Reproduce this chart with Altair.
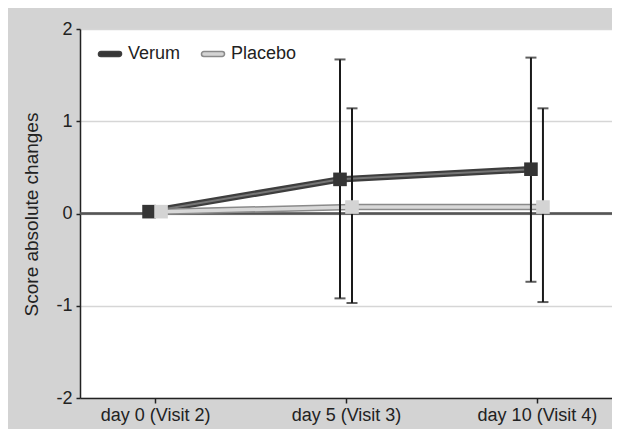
import altair as alt
import pandas as pd

days = ["day 0 (Visit 2)", "day 5 (Visit 3)", "day 10 (Visit 4)"]
groups = ["Verum", "Placebo"]
verum_mean = [0.02, 0.37, 0.48]
verum_hi = [None, 1.67, 1.69]
verum_lo = [None, -0.92, -0.74]
placebo_mean = [0.02, 0.07, 0.07]
placebo_hi = [None, 1.14, 1.14]
placebo_lo = [None, -0.97, -0.96]

rows = []
for g, m, hi, lo in [("Verum", verum_mean, verum_hi, verum_lo),
                     ("Placebo", placebo_mean, placebo_hi, placebo_lo)]:
    for d, mv, h, l in zip(days, m, hi, lo):
        rows.append({"group": g, "day": d, "mean": mv, "hi": h, "lo": l})
df = pd.DataFrame(rows)

FONT = "Liberation Sans"
offsets = {"Verum": -6, "Placebo": 6}
inner_colors = {"Verum": "#767676", "Placebo": "#d8d8d8"}
inner_widths = {"Verum": 2, "Placebo": 3.5}

pill = "M-1,-0.27 L1,-0.27 A0.27,0.27 0 0 1 1,0.27 L-1,0.27 A0.27,0.27 0 0 1 -1,-0.27 Z"
leg = alt.Legend(title=None, orient="none", legendX=20, legendY=15, direction="horizontal",
                 symbolType=pill, symbolSize=330, symbolStrokeWidth=1.5,
                 labelFont=FONT, labelFontSize=18, labelColor="#222",
                 labelOffset=8, columnPadding=17, padding=0)

x = alt.X("day:N", sort=days, scale=alt.Scale(type="point", padding=0.393),
          axis=alt.Axis(title=None, labelAngle=0, labelFont=FONT, labelFontSize=18,
                        labelColor="#222", domainColor="#222", domainWidth=1.5,
                        tickColor="#222", tickSize=5, tickWidth=1.5, labelPadding=3,
                        grid=False))
yscale = alt.Scale(domain=[-2, 2], nice=False)
yaxis = alt.Axis(title="Score absolute changes", values=[-2, -1, 0, 1, 2],
                 labelExpr="'' + datum.value", labelFont=FONT, labelFontSize=18,
                 labelColor="#222", domainColor="#222", domainWidth=1.5,
                 tickColor="#222", tickSize=4, tickWidth=1.5, labelPadding=4,
                 grid=True, gridColor="#d6d6d6", gridWidth=1.5,
                 titleFont=FONT, titleFontSize=19, titleFontWeight="normal",
                 titleColor="#222", titleX=-49, titleY=185, titleAngle=270,
                 titleAlign="center", titleBaseline="middle")

stroke_scale = alt.Scale(domain=groups, range=["#3e3e3e", "#8a8a8a"])
fill_scale = alt.Scale(domain=groups, range=["#353535", "#d4d4d4"])

base = alt.Chart(df)

zero = base.mark_rule(color="#555", strokeWidth=1.5).encode(y=alt.datum(0, scale=yscale, axis=yaxis))

lines, inners, bars, caps, squares = [], [], [], [], []
for g in groups:
    o = offsets[g]
    b = base.transform_filter(alt.datum.group == g)
    lines.append(b.mark_line(strokeWidth=6.5, xOffset=o).encode(
        x=x, y=alt.Y("mean:Q", scale=yscale, axis=yaxis),
        stroke=alt.Stroke("group:N", scale=stroke_scale, legend=leg)))
    inners.append(b.mark_line(strokeWidth=inner_widths[g], xOffset=o, color=inner_colors[g]).encode(
        x=x, y=alt.Y("mean:Q", scale=yscale)))
    eb = b.transform_filter("isValid(datum.hi)")
    bars.append(eb.mark_rule(xOffset=o, color="#1a1a1a", strokeWidth=2).encode(
        x=x, y=alt.Y("lo:Q", scale=yscale), y2="hi:Q"))
    caps.append(eb.mark_tick(xOffset=o, color="#1a1a1a", thickness=2, size=11).encode(
        x=x, y=alt.Y("hi:Q", scale=yscale)))
    caps.append(eb.mark_tick(xOffset=o, color="#1a1a1a", thickness=2, size=11).encode(
        x=x, y=alt.Y("lo:Q", scale=yscale)))
    squares.append(b.mark_point(shape="square", filled=True, size=185, opacity=1,
                                xOffset=o).encode(
        x=x, y=alt.Y("mean:Q", scale=yscale),
        fill=alt.Fill("group:N", scale=fill_scale, legend=leg)))

chart = alt.layer(zero, *lines, *inners, *bars, *caps, *squares).properties(
    width=532, height=369,
    background="#d3d3d3",
    padding={"left": 72, "top": 21, "right": 0, "bottom": 31},
    autosize=alt.AutoSizeParams(type="none"),
).configure_view(stroke=None, fill="white")

chart.save("out.html", embed_options={"renderer": "svg", "actions": False})
